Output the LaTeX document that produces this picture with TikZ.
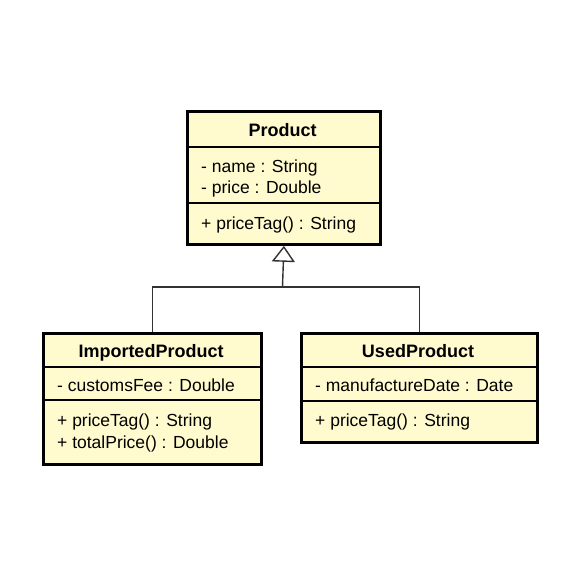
\documentclass[tikz,border=0pt]{standalone}
\usepackage{fontspec}
\setmainfont{Liberation Sans}
\usetikzlibrary{arrows.meta}
\definecolor{umlfill}{RGB}{255,251,206}
\definecolor{linkgray}{RGB}{50,50,50}
\tikzset{
  classbox/.style={draw=black, line width=2.8pt, fill=umlfill, inner sep=0pt, anchor=north west},
  sepline/.style={draw=black, line width=1.2pt},
  title/.style={inner sep=0pt, font=\fontsize{18}{21}\selectfont\bfseries, text height=0.72em, text depth=0.2em},
  member/.style={inner sep=0pt, anchor=west, font=\fontsize{17.5}{21}\selectfont, text height=0.72em, text depth=0.2em},
  link/.style={draw=linkgray, line width=1.4pt},
  gen/.style={link, -{Triangle[open, length=16pt, width=23pt, fill=white]}}
}
\begin{document}
\begin{tikzpicture}[x=1pt, y=-1pt]
\useasboundingbox (0,0) rectangle (560,578);
% Product
\node[classbox, minimum width=193pt, minimum height=133pt] (prod) at (186,110) {};
\draw[sepline] (prod.west |- 0,147) -- (prod.east |- 0,147);
\draw[sepline] (prod.west |- 0,203) -- (prod.east |- 0,203);
\node[title] (prodt) at (282.5,134) {Product};
\node[member] (proda1) at (201,170) {- name : String};
\node[member] (proda2) at (201,191) {- price : Double};
\node[member] (prodm1) at (201,227) {+ priceTag() : String};
% ImportedProduct
\node[classbox, minimum width=218pt, minimum height=131pt] (imp) at (42,332) {};
\draw[sepline] (imp.west |- 0,367) -- (imp.east |- 0,367);
\draw[sepline] (imp.west |- 0,400) -- (imp.east |- 0,400);
\node[title] (impt) at (151,355) {ImportedProduct};
\node[member] (impa1) at (57,389) {- customsFee : Double};
\node[member] (impm1) at (57,424) {+ priceTag() : String};
\node[member] (impm2) at (57,446) {+ totalPrice() : Double};
% UsedProduct
\node[classbox, minimum width=236pt, minimum height=109pt] (used) at (300,332) {};
\draw[sepline] (used.west |- 0,367) -- (used.east |- 0,367);
\draw[sepline] (used.west |- 0,401) -- (used.east |- 0,401);
\node[title] (usedt) at (418,355) {UsedProduct};
\node[member] (useda1) at (315,389) {- manufactureDate : Date};
\node[member] (usedm1) at (315,424) {+ priceTag() : String};
% generalization
\coordinate (jn) at (282.5,287);
\draw[link] (imp.north) |- (jn) -| (used.north);
\draw[gen] (jn) -- (prod.south);
\end{tikzpicture}
\end{document}
